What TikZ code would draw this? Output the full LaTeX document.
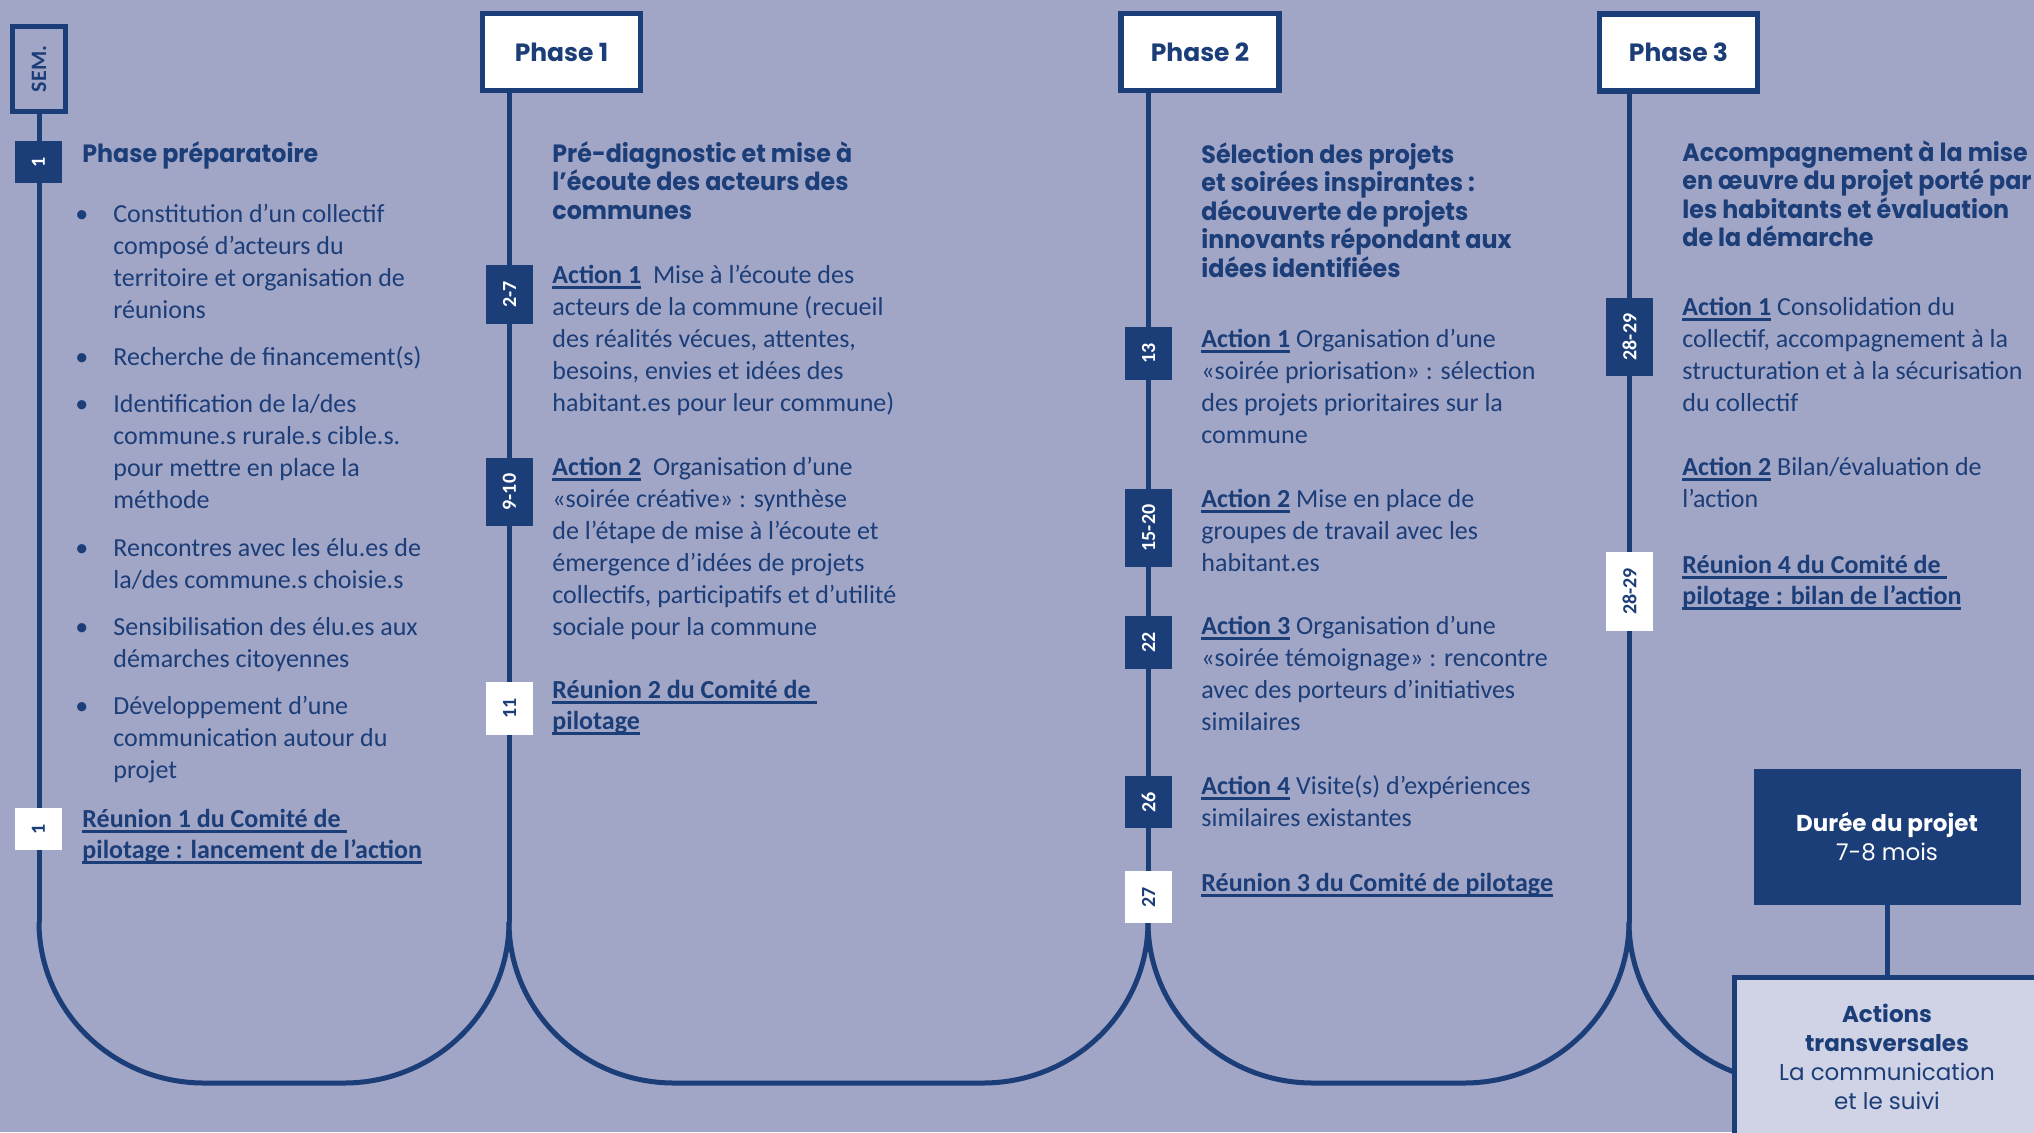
\documentclass[tikz,border=0pt]{standalone}
\usepackage{graphicx}
\usepackage{xcolor}
\usepackage{fontspec}
\setmainfont{Carlito}
\newfontfamily\headfont[FakeStretch=0.95]{Poppins}
\newfontfamily\boxfont{Poppins}
\usepackage{tikz}

\definecolor{dkblue}{HTML}{1B3D78}
\definecolor{bgblue}{HTML}{A1A5C6}
\definecolor{ltblue}{HTML}{D0D2E5}

\newsavebox\ulbox
\newcommand\ulink[1]{\sbox\ulbox{#1}\rlap{\rule[-2.8pt]{\wd\ulbox}{1.6pt}}\usebox\ulbox}
\newcommand\act[1]{\ulink{\textbf{Action #1}}}
\newcommand\itm{\makebox[19pt][l]{•}}
\newcommand\ind{\hspace*{19pt}}
\newcommand\tightlines{\setlength{\lineskiplimit}{-50pt}\setlength{\lineskip}{0pt}}

\begin{document}
\begin{tikzpicture}[x=0.5pt, y=-0.5pt,
    phase/.style={rectangle, draw=dkblue, line width=2.6pt, fill=white, minimum width=79pt, minimum height=38.5pt, text=dkblue, font=\boxfont\bfseries\fontsize{12.5}{15}\selectfont},
    sembox/.style={rectangle, draw=dkblue, line width=2.5pt, fill=bgblue, minimum width=26.5pt, minimum height=42.5pt, inner sep=0pt, text=dkblue, font=\bfseries\fontsize{11}{13}\selectfont},
    tagd/.style={rectangle, fill=dkblue, text=white, rotate=90, inner xsep=8pt, inner ysep=0pt, minimum height=23.5pt, font=\bfseries\fontsize{10}{12}\selectfont},
    tagw/.style={tagd, fill=white, text=dkblue},
    head/.style={anchor=north west, inner sep=0pt, align=left, text=dkblue, font=\headfont\bfseries\fontsize{12.5}{14.25}\selectfont\tightlines},
    body/.style={anchor=north west, inner sep=0pt, align=left, text=dkblue, font=\fontsize{13}{16}\selectfont},
    meet/.style={body, font=\bfseries\fontsize{13}{15.4}\selectfont},
    tl/.style={dkblue, line width=2.5pt}
]
    \fill[bgblue] (0,0) rectangle (2034,1132);
    \useasboundingbox (0,0) rectangle (2034,1132);

    % Phase boxes
    \node[sembox] (sem) at (39,69) {\rotatebox{90}{SEM.}};
    \node[phase] (phaseA) at (561.5,52) {Phase 1};
    \node[phase] (phaseB) at (1200,52) {Phase 2};
    \node[phase] (phaseC) at (1678.5,52.5) {Phase 3};

    % Timeline
    \coordinate (a0) at (39,922);
    \coordinate (a1) at (509,922);
    \coordinate (a2) at (1148,922);
    \coordinate (a3) at (1629,922);
    \coordinate (a4) at (1794,1083);
    \draw[tl] (sem) -- (a0);
    \draw[tl] (phaseA.south -| a1) -- (a1);
    \draw[tl] (phaseB.south -| a2) -- (a2);
    \draw[tl] (phaseC.south -| a3) -- (a3);
    \draw[tl] (a0) .. controls (39,1011) and (113,1083) .. (204,1083) -- (344,1083) .. controls (435,1083) and (509,1011) .. (a1);
    \draw[tl] (a1) .. controls (509,1011) and (583,1083) .. (674,1083) -- (983,1083) .. controls (1074,1083) and (1148,1011) .. (a2);
    \draw[tl] (a2) .. controls (1148,1011) and (1222,1083) .. (1313,1083) -- (1464,1083) .. controls (1555,1083) and (1629,1011) .. (a3);
    \draw[tl] (a3) .. controls (1629,1011) and (1703,1083) .. (a4);

    % Weeks
    \node[tagd] (wk1) at (38.5,162) {1};
    \node[tagw] (wk1b) at (38.5,829) {1};
    \node[tagd] (wk2) at (509.5,294.5) {2-7};
    \node[tagd] (wk9) at (509.5,492) {9-10};
    \node[tagw] (wk11) at (509.5,708.5) {11};
    \node[tagd] (wk13) at (1148.5,353.5) {13};
    \node[tagd] (wk15) at (1148.5,528) {15-20};
    \node[tagd] (wk22) at (1148.5,642.5) {22};
    \node[tagd] (wk26) at (1148.5,802) {26};
    \node[tagw] (wk27) at (1148.5,897) {27};
    \node[tagd] (wk28) at (1629.5,337) {28-29};
    \node[tagw] (wk28b) at (1629.5,591.5) {28-29};

    % Duration and transverse actions
    \node[rectangle, fill=dkblue, text=white, minimum width=133.5pt, minimum height=68pt, align=center, font=\boxfont\fontsize{11.5}{14.5}\selectfont] (duree) at (1887,837) {\textbf{Durée du projet}\\7-8 mois};
    \node[rectangle, draw=dkblue, line width=2.5pt, fill=ltblue, text=dkblue, minimum width=152.5pt, minimum height=80pt, align=center, font=\boxfont\fontsize{11.5}{14.5}\selectfont] (transv) at (1887,1057) {\textbf{Actions}\\\textbf{transversales}\\La communication\\et le suivi};
    \draw[tl] (duree) -- (transv);

    % Preparatory phase
    \node[head] (h0) at (82,141) {\strut Phase préparatoire};
    \node[body] (l0) at (75,199.6) {\strut\itm Constitution d’un collectif\\
        \ind composé d’acteurs du\\
        \ind territoire et organisation de\\
        \ind réunions\\[7.6pt]
        \itm Recherche de financement(s)\\[7.6pt]
        \itm Identification de la/des\\
        \ind commune.s rurale.s cible.s.\\
        \ind pour mettre en place la\\
        \ind méthode\\[7.6pt]
        \itm Rencontres avec les élu.es de\\
        \ind la/des commune.s choisie.s\\[7.6pt]
        \itm Sensibilisation des élu.es aux\\
        \ind démarches citoyennes\\[7.6pt]
        \itm Développement d’une\\
        \ind communication autour du\\
        \ind projet};
    \node[meet] (r1) at (82,805.5) {\strut\ulink{Réunion 1 du Comité de\ }\\\ulink{pilotage : lancement de l’action}};

    % Phase 1
    \node[head] (h1) at (552,141) {\strut Pré-diagnostic et mise à\\l’écoute des acteurs des\\communes};
    \node[body] (p1a) at (552,260.6) {\strut\act{1}\ \ Mise à l’écoute des\\acteurs de la commune (recueil\\des réalités vécues, attentes,\\besoins, envies et idées des\\habitant.es pour leur commune)};
    \node[body] (p1b) at (552,452.6) {\strut\act{2}\ \ Organisation d’une\\«soirée créative» : synthèse\\de l’étape de mise à l’écoute et\\émergence d’idées de projets\\collectifs, participatifs et d’utilité\\sociale pour la commune};
    \node[meet] (r2) at (552,676.5) {\strut\ulink{Réunion 2 du Comité de\ }\\\ulink{pilotage}};

    % Phase 2
    \node[head] (h2) at (1201,142) {\strut Sélection des projets\\et soirées inspirantes :\\découverte de projets\\innovants répondant aux\\idées identifiées};
    \node[body] (p2a) at (1201,324.6) {\strut\act{1} Organisation d’une\\«soirée priorisation» : sélection\\des projets prioritaires sur la\\commune};
    \node[body] (p2b) at (1201,484.6) {\strut\act{2} Mise en place de\\groupes de travail avec les\\habitant.es};
    \node[body] (p2c) at (1201,611.6) {\strut\act{3} Organisation d’une\\«soirée témoignage» : rencontre\\avec des porteurs d’initiatives\\similaires};
    \node[body] (p2d) at (1201,771.6) {\strut\act{4} Visite(s) d’expériences\\similaires existantes};
    \node[meet] (r3) at (1201,869.5) {\strut\ulink{Réunion 3 du Comité de pilotage}};

    % Phase 3
    \node[head] (h3) at (1682,140) {\strut Accompagnement à la mise\\en œuvre du projet porté par\\les habitants et évaluation\\de la démarche};
    \node[body] (p3a) at (1682,292.6) {\strut\act{1} Consolidation du\\collectif, accompagnement à la\\structuration et à la sécurisation\\du collectif};
    \node[body] (p3b) at (1682,452.6) {\strut\act{2} Bilan/évaluation de\\l’action};
    \node[meet] (r4) at (1682,551.5) {\strut\ulink{Réunion 4 du Comité de\ }\\\ulink{pilotage : bilan de l’action}};
\end{tikzpicture}
\end{document}
